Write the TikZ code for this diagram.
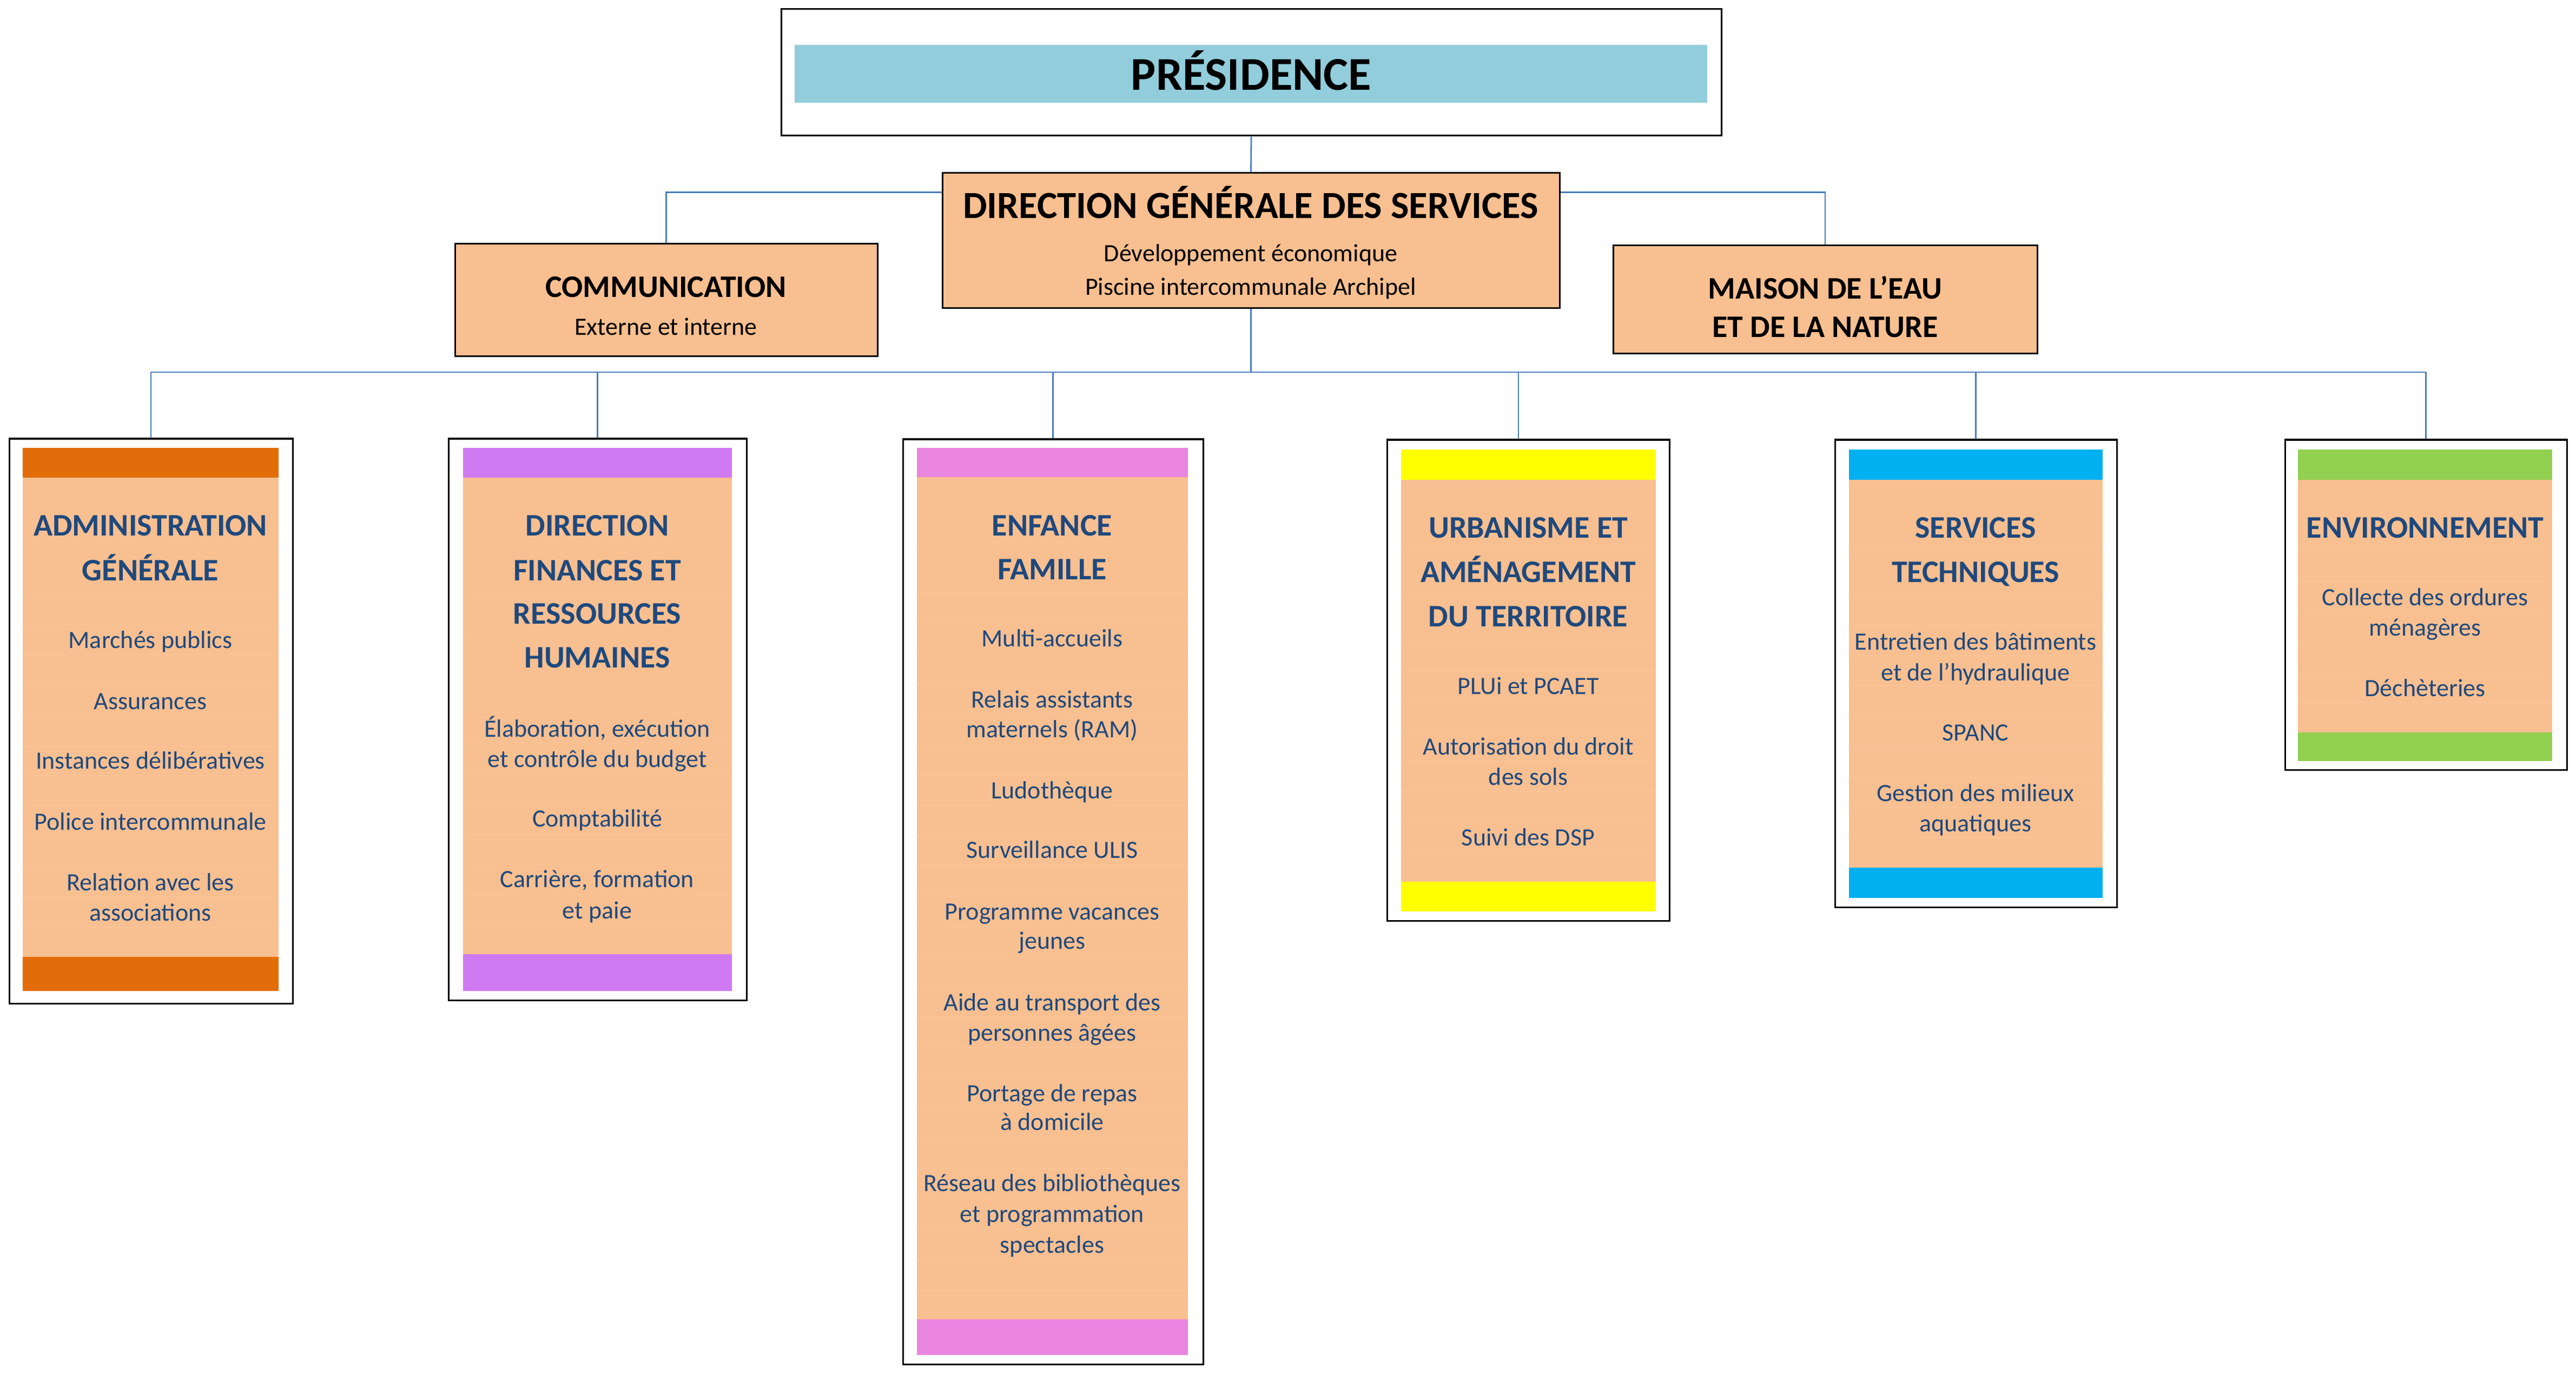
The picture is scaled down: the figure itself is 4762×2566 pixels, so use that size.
\documentclass[tikz,border=0pt]{standalone}
\usepackage{fontspec}
\setmainfont{Carlito}
\usetikzlibrary{fit,calc}
\definecolor{tblue}{HTML}{1F497D}
\definecolor{ora}{HTML}{F8BF90}
\definecolor{presblue}{HTML}{92CDDC}
\definecolor{connc}{HTML}{4A7EBB}
\definecolor{rowc}{HTML}{F9C89E}
\definecolor{cA}{HTML}{E36C0A}
\definecolor{cB}{HTML}{CF7AF2}
\definecolor{cC}{HTML}{EB86E0}
\definecolor{cD}{HTML}{FFFF00}
\definecolor{cE}{HTML}{00B0F0}
\definecolor{cF}{HTML}{92D050}
\newcommand\tline[5]{\node[#4,anchor=base] (#1) at (#2,#3) {#5};}
\begin{document}
\begin{tikzpicture}[x=0.25pt,y=-0.25pt,
  obox/.style={draw=black,line width=0.75pt,fill=white,inner sep=0pt},
  fbox/.style={draw=black,line width=0.75pt,fill=ora,inner sep=0pt},
  conn/.style={draw=connc,line width=0.7pt},
  rowl/.style={draw=rowc,line width=0.25pt},
  ttl/.style={font=\bfseries\fontsize{14.5}{17}\selectfont,text=tblue,inner sep=0pt},
  itm/.style={font=\fontsize{11.5}{14}\selectfont,text=tblue,inner sep=0pt},
  btl/.style={font=\bfseries\fontsize{14.5}{17}\selectfont,text=black,inner sep=0pt},
  bsub/.style={font=\fontsize{11.5}{14}\selectfont,text=black,inner sep=0pt}]
\useasboundingbox (0,0) rectangle (4762,2566);

% --- top boxes
\node[obox,fit={(1444,17)(3182,251)}] (pres) {};
\fill[presblue] (1469,83) rectangle (3156,190);
\tline{prest}{2313}{167}{font=\bfseries\fontsize{21.75}{25}\selectfont,text=black,inner sep=0pt}{PRÉSIDENCE}

\node[fbox,fit={(1742,320)(2883,570)}] (dgs) {};
\tline{dgst}{2312}{404}{font=\bfseries\fontsize{17.7}{20}\selectfont,text=black,inner sep=0pt}{DIRECTION GÉNÉRALE DES SERVICES}
\tline{dgs1}{2312}{484}{bsub}{Développement économique}
\tline{dgs2}{2312}{546}{bsub}{Piscine intercommunale Archipel}

\node[fbox,fit={(841,451)(1622,659)}] (com) {};
\tline{comt}{1231}{550}{btl}{COMMUNICATION}
\tline{coms}{1231}{620}{bsub}{Externe et interne}

\node[fbox,fit={(2982,454)(3766,654)}] (mai) {};
\tline{mai1}{3374}{553}{btl}{MAISON DE L’EAU}
\tline{mai2}{3374}{624}{btl}{ET DE LA NATURE}

% --- panel 1
\node[obox,fit={(17,811)(541,1855)}] (p1) {};
\fill[cA] (42,828) rectangle (515,883);
\fill[ora] (42,883) rectangle (515,1769);
\fill[cA] (42,1769) rectangle (515,1832);
\foreach \yy in {1015,1098,1154,...,1714} \draw[rowl] (42,\yy) -- (515,\yy);
\tline{p1a}{278}{990}{ttl}{ADMINISTRATION}
\tline{p1b}{278}{1073}{ttl}{GÉNÉRALE}
\tline{p1c}{278}{1198}{itm}{Marchés publics}
\tline{p1d}{278}{1311}{itm}{Assurances}
\tline{p1e}{278}{1421}{itm}{Instances délibératives}
\tline{p1f}{278}{1534}{itm}{Police intercommunale}
\tline{p1g}{278}{1646}{itm}{Relation avec les}
\tline{p1h}{278}{1702}{itm}{associations}

% --- panel 2
\node[obox,fit={(829,811)(1380,1849)}] (p2) {};
\fill[cB] (856,828) rectangle (1353,883);
\fill[ora] (856,883) rectangle (1353,1764);
\fill[cB] (856,1764) rectangle (1353,1832);
\foreach \yy in {1015,1098,1180,1261,1317,...,1709} \draw[rowl] (856,\yy) -- (1353,\yy);
\tline{p2a}{1104}{990}{ttl}{DIRECTION}
\tline{p2b}{1104}{1073}{ttl}{FINANCES ET}
\tline{p2c}{1104}{1153}{ttl}{RESSOURCES}
\tline{p2d}{1104}{1234}{ttl}{HUMAINES}
\tline{p2e}{1104}{1362}{itm}{Élaboration, exécution}
\tline{p2f}{1104}{1418}{itm}{et contrôle du budget}
\tline{p2g}{1104}{1528}{itm}{Comptabilité}
\tline{p2h}{1104}{1640}{itm}{Carrière, formation}
\tline{p2i}{1104}{1698}{itm}{et paie}

% --- panel 3
\node[obox,fit={(1669,812)(2224,2522)}] (p3) {};
\fill[cC] (1695,828) rectangle (2196,882);
\fill[ora] (1695,882) rectangle (2196,2439);
\fill[cC] (1695,2439) rectangle (2196,2505);
\foreach \yy in {1015,1096,1152,...,2384} \draw[rowl] (1695,\yy) -- (2196,\yy);
\tline{p3a}{1945}{990}{ttl}{ENFANCE}
\tline{p3b}{1945}{1071}{ttl}{FAMILLE}
\tline{p3c}{1945}{1195}{itm}{Multi-accueils}
\tline{p3d}{1945}{1308}{itm}{Relais assistants}
\tline{p3e}{1945}{1363}{itm}{maternels (RAM)}
\tline{p3f}{1945}{1476}{itm}{Ludothèque}
\tline{p3g}{1945}{1586}{itm}{Surveillance ULIS}
\tline{p3h}{1945}{1700}{itm}{Programme vacances}
\tline{p3i}{1945}{1754}{itm}{jeunes}
\tline{p3j}{1945}{1868}{itm}{Aide au transport des}
\tline{p3k}{1945}{1924}{itm}{personnes âgées}
\tline{p3l}{1945}{2036}{itm}{Portage de repas}
\tline{p3m}{1945}{2089}{itm}{à domicile}
\tline{p3n}{1945}{2202}{itm}{Réseau des bibliothèques}
\tline{p3o}{1945}{2259}{itm}{et programmation}
\tline{p3p}{1945}{2316}{itm}{spectacles}

% --- panel 4
\node[obox,fit={(2564,813)(3086,1702)}] (p4) {};
\fill[cD] (2590,831) rectangle (3061,887);
\fill[ora] (2590,887) rectangle (3061,1630);
\fill[cD] (2590,1630) rectangle (3061,1685);
\foreach \yy in {1018,1100,1183,1239,...,1575} \draw[rowl] (2590,\yy) -- (3061,\yy);
\tline{p4a}{2825}{994}{ttl}{URBANISME ET}
\tline{p4b}{2825}{1076}{ttl}{AMÉNAGEMENT}
\tline{p4c}{2825}{1158}{ttl}{DU TERRITOIRE}
\tline{p4d}{2825}{1283}{itm}{PLUi et PCAET}
\tline{p4e}{2825}{1395}{itm}{Autorisation du droit}
\tline{p4f}{2825}{1451}{itm}{des sols}
\tline{p4g}{2825}{1563}{itm}{Suivi des DSP}

% --- panel 5
\node[obox,fit={(3392,813)(3913,1677)}] (p5) {};
\fill[cE] (3418,831) rectangle (3887,887);
\fill[ora] (3418,887) rectangle (3887,1604);
\fill[cE] (3418,1604) rectangle (3887,1660);
\foreach \yy in {1018,1100,1156,...,1548} \draw[rowl] (3418,\yy) -- (3887,\yy);
\tline{p5a}{3652}{994}{ttl}{SERVICES}
\tline{p5b}{3652}{1076}{ttl}{TECHNIQUES}
\tline{p5c}{3652}{1201}{itm}{Entretien des bâtiments}
\tline{p5d}{3652}{1258}{itm}{et de l’hydraulique}
\tline{p5e}{3652}{1369}{itm}{SPANC}
\tline{p5f}{3652}{1481}{itm}{Gestion des milieux}
\tline{p5g}{3652}{1537}{itm}{aquatiques}

% --- panel 6
\node[obox,fit={(4224,813)(4745,1423)}] (p6) {};
\fill[cF] (4248,831) rectangle (4718,887);
\fill[ora] (4248,887) rectangle (4718,1354);
\fill[cF] (4248,1354) rectangle (4718,1407);
\foreach \yy in {1018,1074,...,1298} \draw[rowl] (4248,\yy) -- (4718,\yy);
\tline{p6a}{4483}{994}{ttl}{ENVIRONNEMENT}
\tline{p6b}{4483}{1119}{itm}{Collecte des ordures}
\tline{p6c}{4483}{1175}{itm}{ménagères}
\tline{p6d}{4483}{1287}{itm}{Déchèteries}

% --- connectors
\draw[conn] (pres.south) -- (dgs.north);
\draw[conn] ($(dgs.north west)+(0,37)$) -| (com.north);
\draw[conn] ($(dgs.north east)+(0,37)$) -| (mai.north);
\coordinate (bus) at (2312,688);
\coordinate (p4in) at ($(p4.north)+(-18,0)$);
\draw[conn] (dgs.south) -- (dgs.south |- bus);
\draw[conn] (p1.north |- bus) -- (p6.north |- bus);
\foreach \pn in {p1,p2,p3,p5,p6} \draw[conn] (\pn.north |- bus) -- (\pn.north);
\draw[conn] (p4in |- bus) -- (p4in);
\end{tikzpicture}
\end{document}
